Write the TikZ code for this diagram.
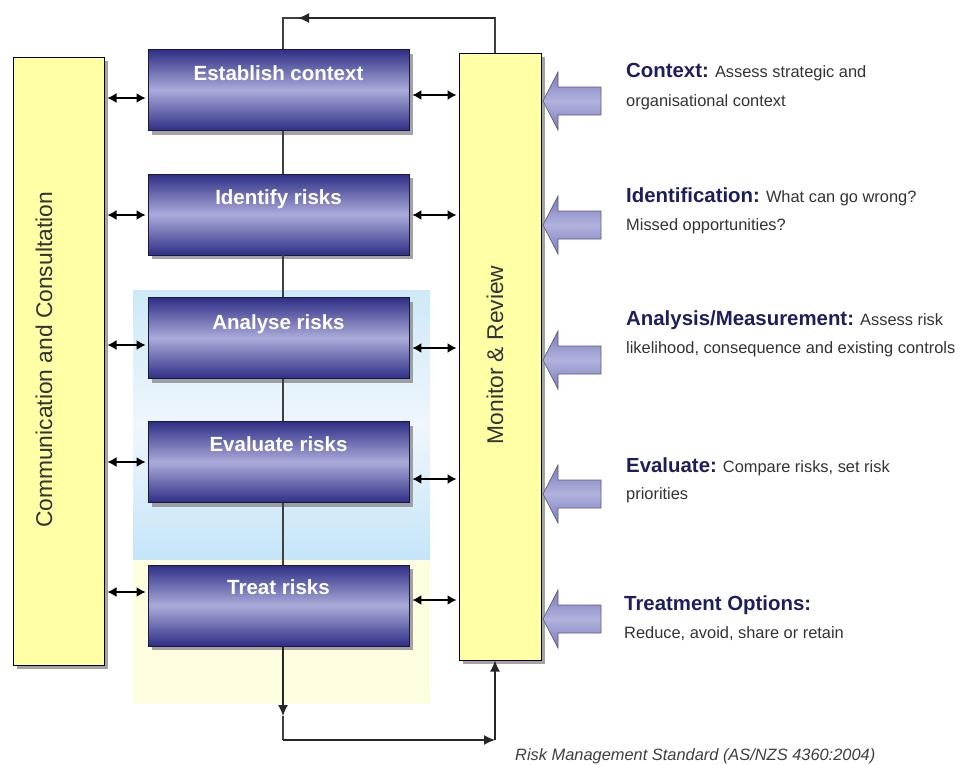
\documentclass[tikz,border=0pt]{standalone}
\usepackage{fontspec}
\setmainfont{Liberation Sans}
\usetikzlibrary{arrows.meta,shadows}
\definecolor{navy}{HTML}{1E1E5C}
\definecolor{bodygray}{HTML}{333333}
\definecolor{footgray}{HTML}{404040}
\definecolor{boxyellow}{HTML}{FFFFA6}
\definecolor{pdark}{HTML}{2E2E86}
\definecolor{plight}{HTML}{ABABDA}
\definecolor{pborder}{HTML}{1A1A40}
\definecolor{bluetop}{HTML}{CDE9F8}
\definecolor{bluemid}{HTML}{F0F6FC}
\definecolor{bluebot}{HTML}{C4E5F8}
\definecolor{paleyellow}{HTML}{FFFDE0}
\definecolor{arrdark}{HTML}{7A7ABC}
\definecolor{arrlight}{HTML}{B2B2DE}
\definecolor{arrborder}{HTML}{5E5E80}
\newcommand\rmhead[1]{{\fontsize{20.4}{24}\selectfont\bfseries\color{navy}#1}}
\begin{document}
\begin{tikzpicture}[x=1pt,y=-1pt,
  ybox/.style={draw=black, line width=1pt, fill=boxyellow, inner sep=0pt,
    drop shadow={shadow xshift=4pt, shadow yshift=-4pt, fill=black!45, opacity=0.8}},
  pbox/.style={draw=pborder, line width=0.9pt, top color=pdark, bottom color=pdark,
    middle color=plight, inner sep=0pt, minimum width=261pt, minimum height=81pt,
    drop shadow={shadow xshift=4pt, shadow yshift=-4pt, fill=black!45, opacity=0.8}},
  ptxt/.style={anchor=base, text=white, font=\fontsize{20.5}{24}\selectfont\bfseries, inner sep=0pt},
  vtxt/.style={rotate=90, anchor=base, text=bodygray, font=\fontsize{22.8}{27}\selectfont, inner sep=0pt},
  body/.style={anchor=base west, inner sep=0pt, text=bodygray, font=\fontsize{16.4}{20}\selectfont},
  vline/.style={draw=black!75, line width=1.2pt},
  arrline/.style={draw=black!85, line width=1.3pt, -{Latex[length=11pt,width=10pt]}},
  dbl/.style={draw=black, line width=1.4pt, {Latex[length=9pt,width=10pt]}-{Latex[length=9pt,width=10pt]}},
  barrow/.style={draw=arrborder, line width=0.7pt, top color=arrdark, bottom color=arrdark, middle color=arrlight}
]
\useasboundingbox (0,0) rectangle (959,764);
\fill[white] (0,0) rectangle (959,764);

% background bands
\fill[top color=bluetop, bottom color=bluebot, middle color=bluemid] (133,290) rectangle (430,560);
\fill[paleyellow] (133,560) rectangle (430,704);

% side boxes
\node[ybox, minimum width=91pt, minimum height=608pt] (comm) at (58.5,361) {};
\node[vtxt] (commtxt) at (52,360) {Communication and Consultation};
\node[ybox, minimum width=82pt, minimum height=607pt] (mon) at (500,356.5) {};
\node[vtxt] (montxt) at (503,355) {Monitor \& Review};

% process boxes
\node[pbox] (est) at (278.5,90) {};
\node[pbox] (idf) at (278.5,214.5) {};
\node[pbox] (ana) at (278.5,338) {};
\node[pbox] (eva) at (278.5,462) {};
\node[pbox] (trt) at (278.5,605.5) {};
\node[ptxt] (estt) at ([yshift=-31pt]est.north) {Establish context};
\node[ptxt] (idft) at ([yshift=-31pt]idf.north) {Identify risks};
\node[ptxt] (anat) at ([yshift=-32pt]ana.north) {Analyse risks};
\node[ptxt] (evat) at ([yshift=-30pt]eva.north) {Evaluate risks};
\node[ptxt] (trtt) at ([yshift=-30pt]trt.north) {Treat risks};

% vertical chain
\coordinate (vx) at (283,0);
\draw[vline] (est.south -| vx) -- (idf.north -| vx);
\draw[vline] (idf.south -| vx) -- (ana.north -| vx);
\draw[vline] (ana.south -| vx) -- (eva.north -| vx);
\draw[vline] (eva.south -| vx) -- (trt.north -| vx);

% top feedback
\coordinate (tr) at (495,18);
\coordinate (tl) at (283,18);
\coordinate (tm) at (298,18);
\draw[vline] (mon.north -| tr) -- (tr) -- (tl) -- (est.north -| vx);
\draw[arrline] (tr) -- (tm);

% bottom loop
\coordinate (bd) at (283,716);
\coordinate (bl) at (283,740);
\coordinate (br) at (495,740);
\draw[arrline] (trt.south -| vx) -- (bd);
\draw[vline] (bd) -- (bl);
\draw[arrline] (bl) -- (br);
\draw[arrline] (br) -- (mon.south -| br);

% double arrows
\foreach \b/\yl/\yr in {est/98/95, idf/215/215, ana/345/348, eva/462/479, trt/592/600}{
  \draw[dbl, shorten <=3pt, shorten >=2pt] (comm.east |- 0,\yl) -- (\b.west |- 0,\yl);
  \draw[dbl, shorten <=3pt, shorten >=2pt] (\b.east |- 0,\yr) -- (mon.west |- 0,\yr);
}

% block arrows
\foreach \c in {101,225,360,494,619}{
  \path[barrow] (543,\c) -- (558,\c-29) -- (558,\c-14) -- (601,\c-14) -- (601,\c+14)
     -- (558,\c+14) -- (558,\c+29) -- cycle;
}

% descriptions
\node[body] (d1a) at (626,77) {\rmhead{Context:} Assess strategic and};
\node[body] (d1b) at (626,106) {organisational context};
\node[body] (d2a) at (626,202) {\rmhead{Identification:} What can go wrong?};
\node[body] (d2b) at (626,230) {Missed opportunities?};
\node[body] (d3a) at (626,325) {\rmhead{Analysis/Measurement:} Assess risk};
\node[body] (d3b) at (626,353) {likelihood, consequence and existing controls};
\node[body] (d4a) at (626,472) {\rmhead{Evaluate:} Compare risks, set risk};
\node[body] (d4b) at (626,499) {priorities};
\node[body] (d5a) at (624,610) {\rmhead{Treatment Options:}};
\node[body] (d5b) at (624,638) {Reduce, avoid, share or retain};

\node[body, text=footgray, font=\itshape\fontsize{16.4}{20}\selectfont] (src) at (515,760)
  {Risk Management Standard (AS/NZS 4360:2004)};
\end{tikzpicture}
\end{document}
